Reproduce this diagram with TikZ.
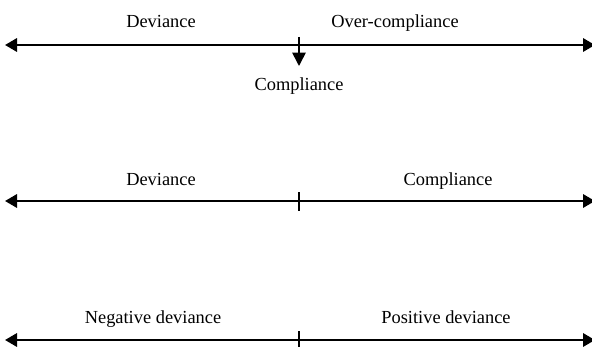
\documentclass[tikz,border=0pt]{standalone}
\usepackage{fontspec}
\setmainfont{Liberation Serif}
\usetikzlibrary{arrows.meta,positioning}

\begin{document}
\begin{tikzpicture}[x=0.75pt,y=-0.75pt,
    axis/.style={line width=1.7pt,{Triangle[length=9pt,width=10pt]}-{Triangle[length=9pt,width=10pt]}},
    tick/.style={line width=1.2pt},
    lbl/.style={font=\fontsize{13.8}{16}\selectfont,inner sep=0pt,anchor=base}]
    \useasboundingbox (0,0) rectangle (592,346);
    % first scale
    \coordinate (l1) at (5,45);
    \coordinate (r1) at (595,45);
    \coordinate (t1) at (299,37);
    \coordinate (d1) at (299,66);
    \draw[axis] (l1) -- (r1);
    \draw[tick,-{Triangle[length=10pt,width=10pt]}] (t1) -- (d1);
    \node[lbl] (dev1) at (161,28) {Deviance};
    \node[lbl] (over1) at (395,28) {Over-compliance};
    \node[lbl] (comp1) at (299,90) {Compliance};
    % second scale
    \coordinate (l2) at (5,201);
    \coordinate (r2) at (595,201);
    \coordinate (t2a) at (299,192);
    \coordinate (t2b) at (299,211);
    \draw[axis] (l2) -- (r2);
    \draw[tick] (t2a) -- (t2b);
    \node[lbl] (dev2) at (161,185) {Deviance};
    \node[lbl] (comp2) at (448,185) {Compliance};
    % third scale
    \coordinate (l3) at (5,340);
    \coordinate (r3) at (595,340);
    \coordinate (t3a) at (299,331);
    \coordinate (t3b) at (299,348);
    \draw[axis] (l3) -- (r3);
    \draw[tick] (t3a) -- (t3b);
    \node[lbl] (neg3) at (153,323) {Negative deviance};
    \node[lbl] (pos3) at (446,323) {Positive deviance};
\end{tikzpicture}
\end{document}
